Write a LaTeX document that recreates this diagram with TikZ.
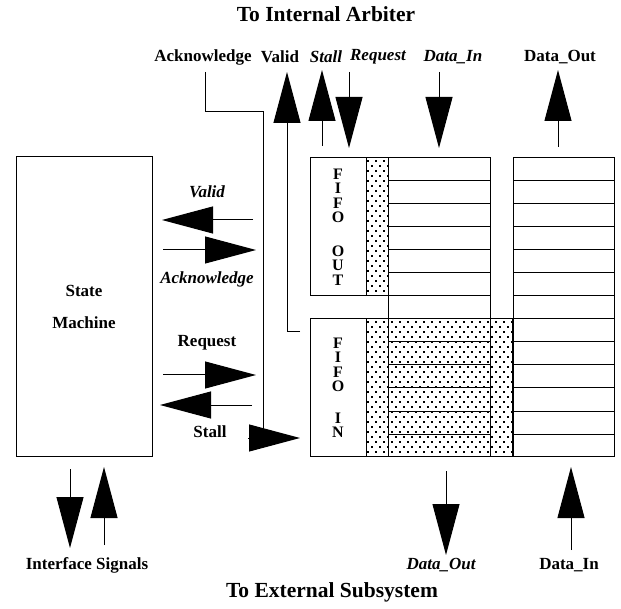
\documentclass[tikz,border=0pt]{standalone}
\usepackage{fontspec}
\setmainfont{Liberation Serif}
\usetikzlibrary{arrows.meta,calc}
\tikzset{
  box/.style={draw, line width=1pt, inner sep=0pt, outer sep=0pt},
  lbl/.style={font=\fontsize{17}{20}\selectfont\bfseries, inner sep=0pt},
  ilbl/.style={font=\fontsize{17}{20}\selectfont\bfseries\itshape, inner sep=0pt},
  ttl/.style={font=\fontsize{21.5}{24}\selectfont\bfseries, inner sep=0pt},
  fifo/.style={font=\fontsize{16}{16}\selectfont\bfseries, inner sep=0pt},
  wire/.style={line width=1pt},
  big/.style={line width=1pt, -{Triangle[length=51pt,width=27pt]}}
}
\begin{document}
\begin{tikzpicture}[x=1pt,y=-1pt]
\useasboundingbox (0,0) rectangle (621,609);

% dotted areas
\begin{scope}
  \clip (366,158) rectangle (388,296);
  \foreach \r in {0,...,28} {
    \pgfmathsetmacro\off{mod(\r,2)*4}
    \foreach \c in {0,...,3} {
      \fill ({367+\off+8*\c},{160+5*\r}) rectangle ++(2.2,2.2);
    }
  }
\end{scope}
\begin{scope}
  \clip (366,319) rectangle (512,456);
  \foreach \r in {0,...,28} {
    \pgfmathsetmacro\off{mod(\r,2)*4}
    \foreach \c in {0,...,19} {
      \fill ({367+\off+8*\c},{321+5*\r}) rectangle ++(2.2,2.2);
    }
  }
\end{scope}
\draw[wire] (366,158) rectangle (388,296);
\draw[wire] (366,319) rectangle (512,456);

% stacks
\node[box, minimum width=102pt, minimum height=298pt] (din) at (439,307) {};
\node[box, minimum width=101pt, minimum height=298pt] (dout) at (563.5,307) {};
\foreach \k in {1,...,12} {
  \draw[wire] ($(din.north west)+(0,23*\k)$) -- ($(din.north east)+(0,23*\k)$);
  \draw[wire] ($(dout.north west)+(0,23*\k)$) -- ($(dout.north east)+(0,23*\k)$);
}

% boxes
\node[box, fill=white, minimum width=56pt, minimum height=138pt] (fout) at (338,227) {};
\node[box, fill=white, minimum width=56pt, minimum height=137pt] (fin) at (338,387.5) {};
\node[box, minimum width=136pt, minimum height=299pt, font=\fontsize{17}{32}\selectfont\bfseries, align=center] (sm) at (84,306.5) {State\\Machine};

% FIFO letters
\foreach \l/\y [count=\i] in {F/174,I/188.5,F/203,O/217.5,O/251,U/265.5,T/280}
  \node[fifo] (fo\i) at (338,\y) {\l};
\foreach \l/\y [count=\i] in {F/343,I/357.5,F/372,O/386.5,I/418,N/432.5}
  \node[fifo] (fi\i) at (338,\y) {\l};

% titles
\node[ttl] (t1) at (326,14) {To Internal Arbiter};
\node[ttl] (t2) at (332,592) {To External Subsystem};

% top labels
\node[lbl] (lack) at (203,57) {Acknowledge};
\node[lbl] (lval) at (280,57) {Valid};
\node[ilbl] (lstall) at (326,57) {Stall};
\node[ilbl] (lreq) at (378,57) {Request};
\node[ilbl] (ldin) at (453,57) {Data\_In};
\node[lbl] (ldout) at (560,57) {Data\_Out};

% middle labels
\node[ilbl] (mval) at (207,192) {Valid};
\node[ilbl] (mack) at (207,279) {Acknowledge};
\node[lbl] (mreq) at (207,343) {Request};
\node[lbl] (mstall) at (210,432) {Stall};

% bottom labels
\node[lbl] (lif) at (87,565) {Interface Signals};
\node[ilbl] (bdout) at (441,565) {Data\_Out};
\node[lbl] (bdin) at (569,565) {Data\_In};

% coordinates for free ends
\coordinate (ackTop) at (205,72);
\coordinate (valTop) at (287,72);
\coordinate (stallTop) at (322,70);
\coordinate (reqTop) at (349,72);
\coordinate (dinTop) at (439,72);
\coordinate (doutTop) at (558,70);

% top arrows
\draw[wire] (ackTop) -- (205,112) -- (263,112) -- (263,438);
\draw[big] (248,438) -- ($(fin.west)+(-10,50.5)$);
\draw[big] ($(fin.north west)+(-10,13)$) -- (287,332) -- (valTop);
\draw[big] ($(fout.north west)+(12,-12)$) -- (stallTop);
\draw[big] (reqTop) -- ($(fout.north east)+(-17,-10)$);
\draw[big] (dinTop) -- ($(din.north)+(0,-10)$);
\draw[big] ($(dout.north)+(-5.5,-11)$) -- (doutTop);

% middle arrows
\draw[big] ($(fout.west)+(-57,-7)$) -- ($(sm.east)+(10,-86.5)$);
\draw[big] ($(sm.east)+(11,-56.5)$) -- ($(fout.west)+(-54,23)$);
\draw[big] ($(sm.east)+(11,68.5)$) -- ($(fin.west)+(-54,-12.5)$);
\draw[big] ($(fin.west)+(-58,17.5)$) -- ($(sm.east)+(8,98.5)$);

% bottom arrows
\draw[big] ($(sm.south)+(-14,13)$) -- (70,548);
\draw[big] ($(sm.south)+(20,89)$) -- (104,467);
\draw[big] ($(din.south)+(7,15)$) -- (446,555);
\draw[big] ($(dout.south)+(7.5,94)$) -- (571,467);
\end{tikzpicture}
\end{document}
